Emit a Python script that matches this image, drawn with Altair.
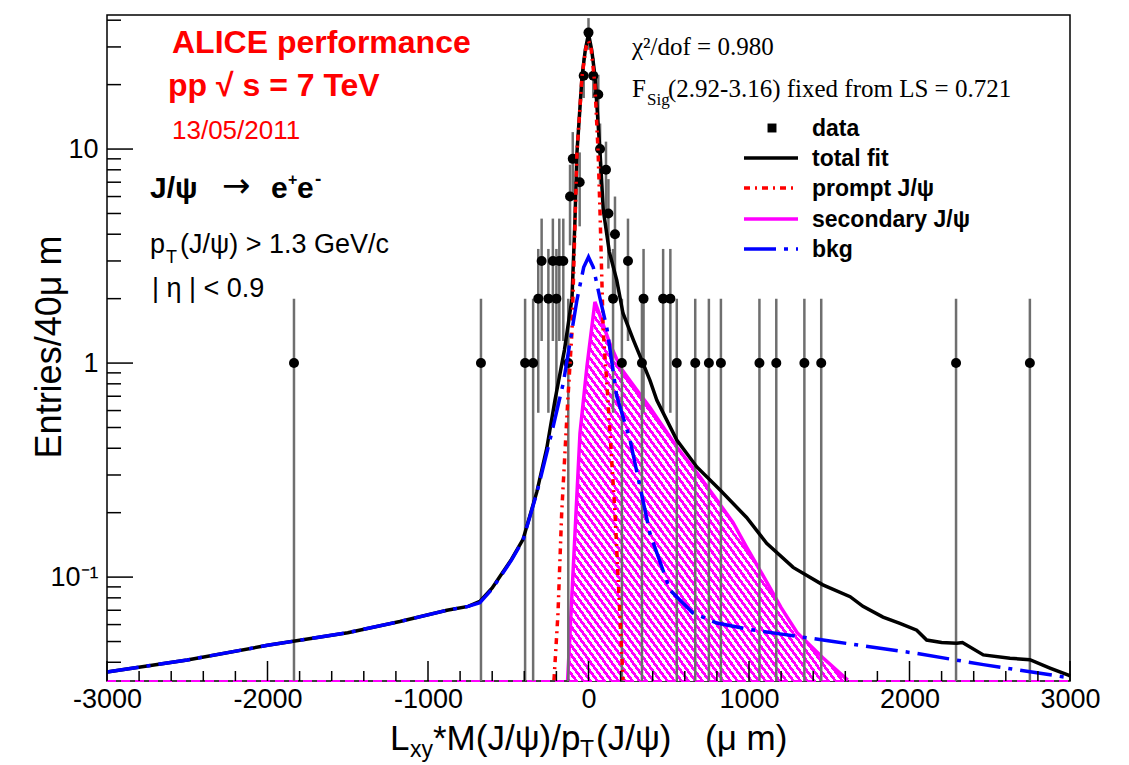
import math
import altair as alt
import pandas as pd

# ---------------- layout ----------------
W, H = 963, 666
X_MIN, X_MAX = -3000, 3000
Y_MIN, Y_MAX = 0.0327, 42.3
OX, OY = 107, 15  # plot origin inside the page (used for annotation placement)

# ---------------- data ----------------
data_x = [-1835, -670, -395, -345, -313, -292, -250, -222, -200, -182, -157, -126,
          -115, -98, -55, -30, 0, 30, 61, 72, 109, 124, 153, 165, 208, 246, 333,
          343, 465, 510, 550, 665, 750, 825, 1065, 1170, 1345, 1450, 2290, 2750]
data_y = [1, 1, 1, 1, 2, 3, 2, 3, 2, 3, 3, 1,
          6, 9, 7, 22, 35, 22, 18, 10, 8, 5, 2, 4, 1, 3, 1,
          2, 2, 2, 1, 1, 1, 1, 1, 1, 1, 1, 1, 1]

tot_x = [-3000, -2500, -2000, -1500, -1175, -882, -750, -677, -600, -551, -480, -408,
         -322, -260, -209, -150, -103, -85, -72, -40, -20, 0, 20, 40, 72, 92, 130,
         176, 215, 280, 383, 426, 550, 675, 820, 985, 1110, 1275, 1460, 1630, 1710,
         1835, 1940, 2045, 2107, 2200, 2294, 2330, 2460, 2626, 2750, 2875, 2990, 3000]
tot_y = [0.036, 0.041, 0.048, 0.055, 0.062, 0.070, 0.073, 0.077, 0.089, 0.101, 0.121, 0.15,
         0.25, 0.40, 0.67, 1.15, 2.0, 4.5, 9.6, 22, 29, 34.5, 29, 22, 9.6, 5.2, 3.3,
         2.44, 1.71, 1.28, 0.83, 0.67, 0.437, 0.327, 0.255, 0.19, 0.144, 0.111, 0.092, 0.081, 0.073,
         0.065, 0.0608, 0.0565, 0.0508, 0.0495, 0.0491, 0.0495, 0.0433, 0.0418, 0.0411, 0.0376, 0.0348, 0.0345]

prompt_x = [-215, -190, -167, -130, -103, -84, -72, -40, -15, 0, 15, 40, 60, 72, 92, 120, 165, 195, 215]
prompt_y = [0.033, 0.068, 0.2, 0.65, 1.4, 4.5, 9.6, 22, 30, 32, 30, 20, 9.6, 5, 1.4, 0.69, 0.2, 0.068, 0.033]

sec_x = [-130, -95, -53, -10, 40, 80, 130, 200, 300, 383, 550, 700, 800, 900, 985,
         1110, 1200, 1300, 1460, 1615]
sec_y = [0.033, 0.11, 0.47, 0.96, 1.93, 1.6, 1.25, 0.95, 0.75, 0.62, 0.405, 0.29, 0.229, 0.18, 0.138,
         0.095, 0.072, 0.055, 0.042, 0.033]
sec_zero_x = [-3000, 3000]   # secondary curve is ~0 elsewhere -> drawn along the frame bottom
sec_zero_y = 1e-4

bkg_x = [-3000, -2500, -2000, -1500, -1175, -882, -750, -677, -600, -551, -480, -408,
         -322, -240, -157, -72, -30, 0, 30, 72, 115, 176, 258, 383, 508, 650, 800,
         1000, 1215, 1525, 2045, 2460, 2980, 3000]
bkg_y = [0.036, 0.041, 0.048, 0.055, 0.062, 0.070, 0.073, 0.076, 0.088, 0.100, 0.12, 0.149,
         0.247, 0.437, 0.806, 1.97, 2.8, 3.13, 2.8, 2.0, 1.45, 0.70, 0.44, 0.16, 0.087, 0.068, 0.061,
         0.057, 0.054, 0.050, 0.044, 0.039, 0.034, 0.034]

x_major = [-3000, -2000, -1000, 0, 1000, 2000, 3000]
x_minor = [v for v in range(-3000, 3001, 200) if v % 1000 != 0]
y_major = [0.1, 1, 10]
y_minor = [0.04, 0.05, 0.06, 0.07, 0.08, 0.09, 0.2, 0.3, 0.4, 0.5, 0.6, 0.7, 0.8, 0.9,
           2, 3, 4, 5, 6, 7, 8, 9, 20, 30, 40]

# ---------------- tables ----------------
df_data = pd.DataFrame({"x": data_x, "y": data_y})
df_data["lo"] = [max(v - math.sqrt(v), 1e-4) for v in data_y]
df_data["hi"] = [v + math.sqrt(v) for v in data_y]
df_tot = pd.DataFrame({"x": tot_x, "y": tot_y})
df_prompt = pd.DataFrame({"x": prompt_x, "y": prompt_y})
df_sec = pd.DataFrame({"x": sec_x, "y": sec_y})
df_sec_zero = pd.DataFrame({"x": [sec_zero_x[0]], "x2": [sec_zero_x[1]], "y": [sec_zero_y]})
df_bkg = pd.DataFrame({"x": bkg_x, "y": bkg_y})

xs = alt.Scale(domain=[X_MIN, X_MAX], nice=False, zero=False)
ys = alt.Scale(type="log", domain=[Y_MIN, Y_MAX], nice=False, clamp=True)

FONT = "Liberation Sans"
SERIF = "Liberation Serif"
MAGENTA = "#ff00ff"
RED = "#ff0000"
BLUE = "#0000ff"

x_axis = alt.Axis(values=x_major, labelExpr="datum.value + ''", ticks=False, tickSize=0, domain=False,
                  grid=False, labelFont=FONT, labelFontSize=27, labelColor="black", labelPadding=5,
                  labelFlush=False, labelOverlap=False, title=None)
y_axis = alt.Axis(values=y_major, labelExpr="datum.value < 0.5 ? '10⁻¹' : datum.value + ''", ticks=False,
                  tickSize=0, domain=False, grid=False, labelFont=FONT, labelFontSize=27,
                  labelColor="black", labelPadding=9, labelFlush=False, labelOverlap=False, title=None)

def X(f="x"):
    return alt.X(f"{f}:Q", scale=xs, axis=x_axis)

def Y(f="y"):
    return alt.Y(f"{f}:Q", scale=ys, axis=y_axis)

# ---------------- hatched secondary area ----------------
n_periods = 80
stops = []
for i in range(n_periods):
    a, b, c = i / n_periods, (i + 0.5) / n_periods, (i + 1) / n_periods
    stops += [alt.GradientStop(color=MAGENTA, offset=a), alt.GradientStop(color=MAGENTA, offset=b),
              alt.GradientStop(color="white", offset=b), alt.GradientStop(color="white", offset=c)]
hatch = alt.Gradient(gradient="linear", stops=stops, x1=0, y1=1, x2=1, y2=0)

area = alt.Chart(df_sec).mark_area(fill=hatch, line=False, opacity=1).encode(
    x=X(), y=Y(), y2=alt.datum(1e-4))
sec_line = alt.Chart(df_sec).mark_line(color=MAGENTA, strokeWidth=3.5).encode(x=X(), y=Y())
sec_zero = alt.Chart(df_sec_zero).mark_rule(color=MAGENTA, strokeWidth=2, strokeDash=[9, 5]).encode(
    x=X(), x2="x2:Q", y=Y())

errbars = alt.Chart(df_data).mark_rule(color="#6f6f6f", strokeWidth=2.5).encode(
    x=X(), y=Y("lo"), y2="hi:Q")
points = alt.Chart(df_data).mark_circle(color="black", size=100, opacity=1).encode(x=X(), y=Y())

tot_line = alt.Chart(df_tot).mark_line(color="black", strokeWidth=3.5).encode(x=X(), y=Y())
prompt_line = alt.Chart(df_prompt).mark_line(color=RED, strokeWidth=3.5,
                                             strokeDash=[6, 5, 2, 5]).encode(x=X(), y=Y())
bkg_line = alt.Chart(df_bkg).mark_line(color=BLUE, strokeWidth=3.5,
                                       strokeDash=[32, 8, 4, 8]).encode(x=X(), y=Y())

# ---------------- inside ticks ----------------
xt_major = alt.Chart(pd.DataFrame({"x": x_major})).mark_rule(color="black", strokeWidth=1.5).encode(
    x=X(), y=alt.value(H), y2=alt.value(H - 20))
xt_minor = alt.Chart(pd.DataFrame({"x": x_minor})).mark_rule(color="black", strokeWidth=1.5).encode(
    x=X(), y=alt.value(H), y2=alt.value(H - 10))
yt_major = alt.Chart(pd.DataFrame({"y": y_major})).mark_rule(color="black", strokeWidth=1.5).encode(
    y=Y(), x=alt.value(0), x2=alt.value(26))
yt_minor = alt.Chart(pd.DataFrame({"y": y_minor})).mark_rule(color="black", strokeWidth=1.5).encode(
    y=Y(), x=alt.value(0), x2=alt.value(14))

# ---------------- annotations ----------------
def txt(s, px, py, size, color="black", bold=False, font=FONT, align="left", angle=0, baseline="alphabetic"):
    kw = dict(align=align, baseline=baseline, font=font, fontSize=size, color=color,
              fontWeight="bold" if bold else "normal")
    if angle:
        kw["angle"] = angle
    return alt.Chart(pd.DataFrame({"t": [s]})).mark_text(**kw).encode(
        x=alt.value(px - OX), y=alt.value(py - OY), text="t:N")

texts = [
    txt("ALICE performance", 172, 53, 32, RED, bold=True),
    txt("pp √ s = 7 TeV", 168, 96, 32, RED, bold=True),
    txt("13/05/2011", 172, 139, 26, RED),
    txt("J/ψ", 150, 198, 30, bold=True),
    txt("→", 222, 197, 34, font="DejaVu Sans"),
    txt("e", 271, 198, 30, bold=True),
    txt("+", 288, 185, 16, bold=True),
    txt("e", 297, 198, 30, bold=True),
    txt("-", 315, 185, 19, bold=True),
    txt("p", 150, 253, 27),
    txt("T", 166, 263, 18),
    txt("(J/ψ) > 1.3 GeV/c", 180, 253, 27),
    txt("| η | < 0.9", 152, 297, 27),
    txt("χ²/dof = 0.980", 632, 55, 25, font=SERIF),
    txt("F", 632, 97, 25, font=SERIF),
    txt("Sig", 647, 105, 17, font=SERIF),
    txt("(2.92-3.16) fixed from LS = 0.721", 668, 97, 25, font=SERIF),
    # axis titles
    txt("Entries/40μ m", 50, 347, 36, align="center", angle=270, baseline="middle"),
    txt("L", 390, 750, 35),
    txt("xy", 410, 757, 23),
    txt("*M(J/ψ)/p", 433, 750, 35),
    txt("T", 580, 757, 23),
    txt("(J/ψ)", 596, 750, 35),
    txt("(μ m)", 705, 750, 35),
]

# legend
LX0, LX1 = 744 - OX, 798 - OX
leg_rows = [128, 158, 188, 219, 249]
leg_labels = ["data", "total fit", "prompt J/ψ", "secondary J/ψ", "bkg"]
legend = []
dummy = pd.DataFrame({"d": [0]})
legend.append(alt.Chart(dummy).mark_square(color="black", size=80, opacity=1).encode(
    x=alt.value(772 - OX), y=alt.value(leg_rows[0] - OY)))
for yy, col, dash in [(leg_rows[1], "black", None), (leg_rows[2], RED, [6, 5, 2, 5]),
                      (leg_rows[3], MAGENTA, None), (leg_rows[4], BLUE, [32, 8, 4, 8])]:
    kw = dict(color=col, strokeWidth=3.5)
    if dash:
        kw["strokeDash"] = dash
    legend.append(alt.Chart(dummy).mark_rule(**kw).encode(
        x=alt.value(LX0), x2=alt.value(LX1), y=alt.value(yy - OY)))
for yy, lab in zip(leg_rows, leg_labels):
    legend.append(txt(lab, 812, yy + 8, 23, bold=True))

chart = alt.layer(
    area, sec_line, sec_zero, errbars, points, tot_line, prompt_line, bkg_line,
    xt_major, xt_minor, yt_major, yt_minor, *texts, *legend
).properties(
    width=W, height=H,
    autosize=alt.AutoSizeParams(type="none"),
    padding={"left": OX, "top": OY, "right": 1129 - OX - W, "bottom": 765 - OY - H},
    background="white",
).configure_view(stroke="black", strokeWidth=1.5)

chart.save("out.html", embed_options={"renderer": "svg", "actions": False})
